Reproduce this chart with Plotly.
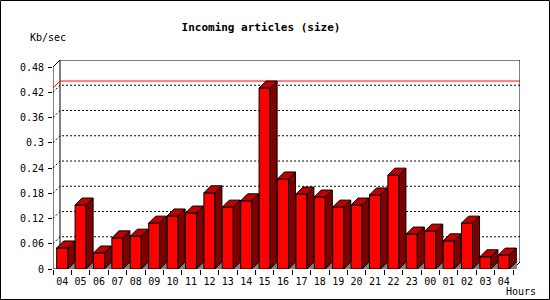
import plotly.graph_objects as go

# ---- data ----
hours = ["04", "05", "06", "07", "08", "09", "10", "11", "12", "13", "14", "15", "16",
         "17", "18", "19", "20", "21", "22", "23", "00", "01", "02", "03", "04"]
kb_per_sec = [0.050, 0.152, 0.038, 0.074, 0.078, 0.109, 0.126, 0.133, 0.181, 0.147,
              0.162, 0.430, 0.214, 0.178, 0.171, 0.147, 0.152, 0.176, 0.223, 0.083,
              0.090, 0.067, 0.109, 0.029, 0.033]
y_tick_vals = [0, 0.06, 0.12, 0.18, 0.24, 0.30, 0.36, 0.42, 0.48]
y_tick_text = ["0", "0.06", "0.12", "0.18", "0.24", "0.3", "0.36", "0.42", "0.48"]
title_text = "Incoming articles (size)"
y_title = "Kb/sec"
x_title = "Hours"

# ---- geometry ----
W, H = 550, 300
L, R, T, B = 53, 520, 60, 269          # plot area in pixels
WP, HP = R - L, B - T
DXPX, DYPX = 7, 7                       # 3D depth offset in pixels
n = len(hours)
cat_px = (WP - DXPX) / n
DX = DXPX / cat_px                      # depth in category units
YMAX = 0.48
unit_px = (HP - DYPX) / YMAX
DY = DYPX / unit_px                     # depth in value units
XR = [-0.5, n - 0.5 + DX]
YR = [0, HP / unit_px]
HALF = 0.3                              # half bar width in categories


def px_x(px):
    return (px - L) / WP


def px_y(py):
    return (B - py) / HP


fig = go.Figure()


def line_trace(xs, ys, color="black", dash="solid", width=1):
    fig.add_trace(go.Scatter(x=xs, y=ys, mode="lines",
                             line=dict(color=color, width=width, dash=dash),
                             hoverinfo="skip", showlegend=False))


x0 = XR[0]
# back wall frame
line_trace([x0 + DX, x0 + DX, XR[1], XR[1]], [DY, YMAX + DY, YMAX + DY, DY])
# front y axis line + top diagonal
line_trace([x0, x0, x0 + DX], [0, YMAX, YMAX + DY])
# floor front edge + right diagonal
line_trace([x0, n - 0.5, n - 0.5 + DX], [0, 0, DY])

# dotted grid on back wall with side diagonals
gx, gy = [], []
for v in y_tick_vals[1:-1]:
    gx += [x0, x0 + DX, XR[1], None]
    gy += [v, v + DY, v + DY, None]
line_trace(gx, gy, dash="2px,2px")

# red line at maximum
vmax = max(kb_per_sec)
line_trace([x0, x0 + DX, XR[1]], [vmax, vmax + DY, vmax + DY], color="#ff0000")

# bars
shx, shy, fx, fy, sx, sy, tx, ty = [], [], [], [], [], [], [], []
for i, v in enumerate(kb_per_sec):
    l, r = i - HALF, i + HALF
    shx += [r, r + DX, r + DX, r, None]
    shy += [0, DY, 0, 0, None]
    fx += [l, r, r, l, l, None]
    fy += [0, 0, v, v, 0, None]
    sx += [r, r + DX, r + DX, r, r, None]
    sy += [0, DY, v + DY, v, 0, None]
    tx += [l, r, r + DX, l + DX, l, None]
    ty += [v, v, v + DY, v + DY, v, None]


def poly(xs, ys, fill, lc="black"):
    fig.add_trace(go.Scatter(x=xs, y=ys, mode="lines", fill="toself",
                             fillcolor=fill, line=dict(color=lc, width=1),
                             hoverinfo="skip", showlegend=False))


poly(shx, shy, "#808080", "#808080")
poly(fx, fy, "#ff0000")
poly(sx, sy, "#800000")
poly(tx, ty, "#c00000")

mono = "DejaVu Sans Mono"
fig.update_layout(
    width=W, height=H,
    margin=dict(l=L, r=W - R, t=T, b=H - B, pad=0),
    paper_bgcolor="white", plot_bgcolor="white",
    showlegend=False,
    title=dict(text="<b>" + title_text + "</b>", x=261 / W, y=1 - 27 / H,
               xanchor="center", yanchor="middle",
               font=dict(family=mono, size=11, color="black")),
    xaxis=dict(range=XR, tickmode="array", tickvals=list(range(n)), ticktext=hours,
               ticks="", showgrid=False, zeroline=False, showline=False,
               ticklabelstandoff=5,
               tickfont=dict(family=mono, size=10, color="black"),
               minor=dict(tickmode="array", tickvals=[i - 0.5 for i in range(n + 1)],
                          ticks="outside", ticklen=5, tickcolor="black", tickwidth=1,
                          showgrid=False),
               fixedrange=True),
    yaxis=dict(range=YR, tickmode="array", tickvals=y_tick_vals, ticktext=y_tick_text,
               ticks="outside", ticklen=4, tickcolor="black", tickwidth=1,
               showgrid=False, zeroline=False, showline=False,
               ticklabelstandoff=2,
               tickfont=dict(family=mono, size=10, color="black"),
               fixedrange=True),
    annotations=[
        dict(text=y_title, xref="paper", yref="paper", x=px_x(28), y=px_y(37),
             xanchor="left", yanchor="middle", showarrow=False,
             font=dict(family=mono, size=10, color="black")),
        dict(text=x_title, xref="paper", yref="paper", x=px_x(504), y=px_y(291),
             xanchor="left", yanchor="middle", showarrow=False,
             font=dict(family=mono, size=10, color="black")),
    ],
    shapes=[dict(type="rect", xref="paper", yref="paper",
                 x0=px_x(0.5), x1=px_x(549.5), y0=px_y(0.5), y1=px_y(299.5),
                 line=dict(color="black", width=1), layer="above")],
)

fig.write_html("out.html")
